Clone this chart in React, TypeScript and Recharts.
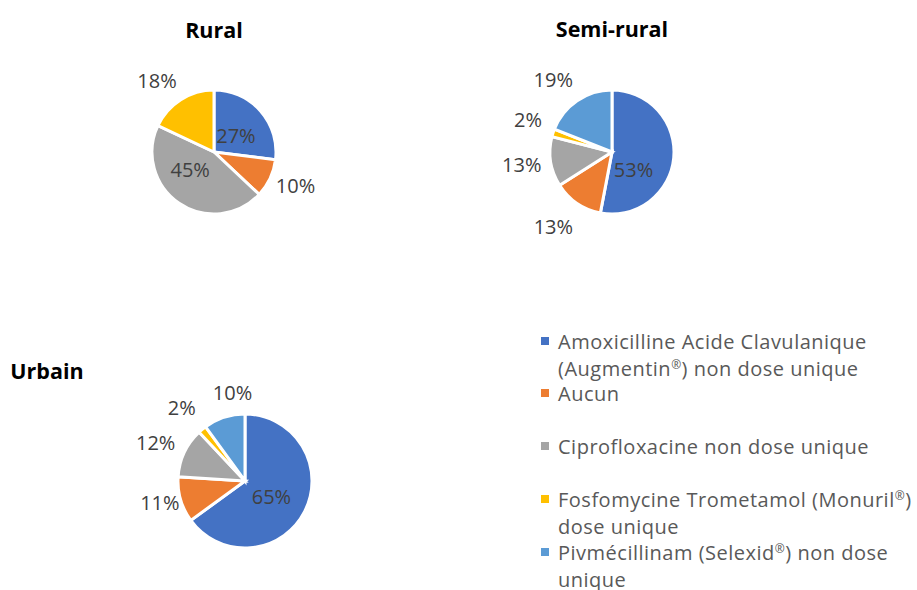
import React from "react";
import { PieChart, Pie, Cell, Legend } from "recharts";

const categories = [
  "Amoxicilline Acide Clavulanique (Augmentin®) non dose unique",
  "Aucun",
  "Ciprofloxacine non dose unique",
  "Fosfomycine Trometamol (Monuril®) dose unique",
  "Pivmécillinam (Selexid®) non dose unique",
];
const colors = ["#4472C4", "#ED7D31", "#A5A5A5", "#FFC000", "#5B9BD5"];

const ruralValues = [27, 10, 45, 18, 0];
const semiRuralValues = [53, 13, 13, 2, 19];
const urbainValues = [65, 11, 12, 2, 10];

const titles = ["Rural", "Semi-rural", "Urbain"];

// label placement: d = distance from centre in outer radii, a = angle shift (deg, clockwise)
const ruralPlace = [
  { d: 0.44, a: 5 },
  { d: 1.42, a: -3 },
  { d: 0.48, a: 19 },
  { d: 1.48, a: -6 },
  { d: 1.4, a: 0 },
];
const semiPlace = [
  { d: 0.45, a: 34 },
  { d: 1.53, a: 4 },
  { d: 1.47, a: 1 },
  { d: 1.45, a: 3 },
  { d: 1.5, a: -5 },
];
const urbainPlace = [
  { d: 0.46, a: 4 },
  { d: 1.31, a: 2 },
  { d: 1.45, a: -2 },
  { d: 1.45, a: -1 },
  { d: 1.34, a: 10 },
];

const toData = (vals: number[]) =>
  categories.map((name, i) => ({ name, value: vals[i] }));

const RAD = Math.PI / 180;
const FONT = "'Open Sans', 'Noto Sans', sans-serif";

const makeLabel = (place: { d: number; a: number }[]) => (props: any) => {
  const { cx, cy, midAngle, outerRadius, value, index } = props;
  if (!value) return null;
  const p = place[index];
  const ang = (midAngle - p.a) * RAD;
  const r = outerRadius * p.d;
  const x = cx + r * Math.cos(ang);
  const y = cy - r * Math.sin(ang);
  return (
    <text
      x={x}
      y={y}
      textAnchor="middle"
      dominantBaseline="central"
      fill="#404040"
      fontSize={20}
      fontFamily={FONT}
    >
      {value}%
    </text>
  );
};

const withSmallReg = (s: string) => {
  const parts = s.split("®");
  const out: React.ReactNode[] = [];
  parts.forEach((p, i) => {
    out.push(<React.Fragment key={"t" + i}>{p}</React.Fragment>);
    if (i < parts.length - 1)
      out.push(
        <span key={"r" + i} style={{ fontSize: "0.6em", verticalAlign: "0.55em", lineHeight: 1 }}>
          ®
        </span>
      );
  });
  return out;
};

const renderLegend = () => (
  <div style={{ fontFamily: FONT, fontSize: 20, letterSpacing: 0.5, color: "#595959" }}>
    {categories.map((c, i) => (
      <div
        key={c}
        style={{ height: 52.75, position: "relative", paddingLeft: 25, lineHeight: "27px", width: 362 }}
      >
        <span
          style={{
            position: "absolute",
            left: 8,
            top: 9,
            width: 8,
            height: 8,
            background: colors[i],
          }}
        />
        {withSmallReg(c)}
      </div>
    ))}
  </div>
);

const titleStyle: React.CSSProperties = {
  position: "absolute",
  fontFamily: FONT,
  fontWeight: 700,
  fontSize: 21.5,
  color: "#000",
  transform: "translate(-50%, -50%)",
  whiteSpace: "nowrap",
};

export default function App() {
  const pies = [
    { vals: ruralValues, cx: 214, cy: 152, r: 62, place: ruralPlace },
    { vals: semiRuralValues, cx: 612, cy: 152, r: 62, place: semiPlace },
    { vals: urbainValues, cx: 245, cy: 481, r: 67, place: urbainPlace },
  ];
  return (
    <div style={{ position: "absolute", left: 0, top: 0, width: 917, height: 590, background: "#fff", overflow: "hidden" }}>
      <PieChart width={917} height={590} margin={{ top: 0, right: 0, bottom: 0, left: 0 }}>
        {pies.map((p, k) => (
          <Pie
            key={k}
            data={toData(p.vals)}
            dataKey="value"
            nameKey="name"
            cx={p.cx}
            cy={p.cy}
            outerRadius={p.r}
            startAngle={90}
            endAngle={-270}
            stroke="#fff"
            strokeWidth={3}
            labelLine={false}
            label={makeLabel(p.place)}
            isAnimationActive={false}
          >
            {p.vals.map((_, i) => (
              <Cell key={i} fill={colors[i]} />
            ))}
          </Pie>
        ))}
        <Legend
          content={renderLegend}
          wrapperStyle={{ position: "absolute", left: 533, top: 327.5, width: 384, height: 270 }}
        />
      </PieChart>
      <div style={{ ...titleStyle, left: 214, top: 29 }}>{titles[0]}</div>
      <div style={{ ...titleStyle, left: 612, top: 28 }}>{titles[1]}</div>
      <div style={{ ...titleStyle, left: 47, top: 370 }}>{titles[2]}</div>
    </div>
  );
}
